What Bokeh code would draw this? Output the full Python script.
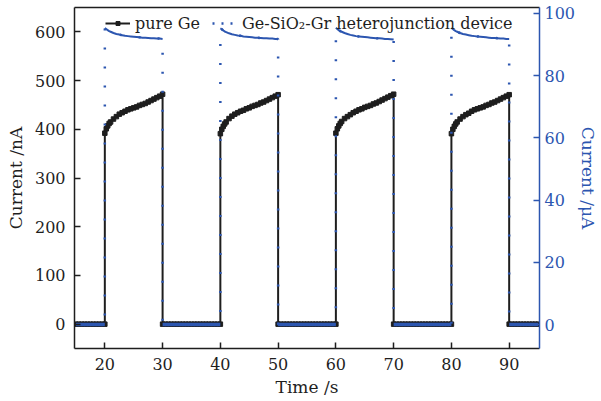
import numpy as np
from bokeh.plotting import figure
from bokeh.models import Range1d, LinearAxis, FixedTicker, Legend, LegendItem
from bokeh.embed import file_html
from bokeh.resources import INLINE

# ---------------- data ----------------
x_start, x_end = 15, 95
on_starts = [20, 40, 60, 80]          # light on (s)
on_length = 10                         # light on duration (s)
sample_dt = [0.0, 0.25, 0.5, 0.75, 1.0, 1.5, 2.0, 2.5, 3.0, 3.5, 4.0, 4.5, 5.0,
             5.5, 6.0, 6.5, 7.0, 7.5, 8.0, 8.5, 9.0, 9.5, 10.0]

# pure Ge current (nA) during each light-on period
ge_cycle1 = [392, 401, 407, 412, 415, 421, 426, 431, 434, 437, 440, 442, 444, 446, 449, 451, 453, 456, 459, 462, 465, 468, 472]
ge_cycle2 = [391, 400, 406, 411, 415, 422, 427, 431, 434, 437, 439, 442, 444, 447, 449, 451, 454, 456, 459, 462, 465, 468, 471]
ge_cycle3 = [392, 401, 407, 412, 416, 422, 426, 430, 434, 437, 440, 442, 445, 447, 449, 452, 454, 457, 460, 463, 466, 469, 472]
ge_cycle4 = [391, 400, 406, 411, 415, 421, 426, 430, 433, 437, 440, 442, 444, 446, 449, 451, 454, 456, 459, 462, 465, 468, 471]

# Ge-SiO2-Gr heterojunction current (uA) during each light-on period
hj_cycle1 = [95.3, 95.0, 94.6, 94.3, 94.1, 93.7, 93.4, 93.2, 93.0, 92.8, 92.7, 92.6, 92.5, 92.4, 92.3, 92.2, 92.2, 92.1, 92.0, 92.0, 91.9, 91.9, 91.8]
hj_cycle2 = [95.2, 94.9, 94.5, 94.2, 94.0, 93.6, 93.3, 93.1, 92.9, 92.8, 92.6, 92.5, 92.4, 92.3, 92.2, 92.2, 92.1, 92.0, 92.0, 91.9, 91.9, 91.8, 91.8]
hj_cycle3 = [95.4, 95.0, 94.6, 94.3, 94.1, 93.7, 93.4, 93.1, 92.9, 92.7, 92.6, 92.5, 92.4, 92.3, 92.2, 92.1, 92.0, 92.0, 91.9, 91.8, 91.8, 91.7, 91.6]
hj_cycle4 = [95.3, 95.0, 94.6, 94.3, 94.1, 93.7, 93.4, 93.2, 93.0, 92.8, 92.7, 92.6, 92.5, 92.4, 92.3, 92.2, 92.1, 92.1, 92.0, 91.9, 91.9, 91.8, 91.8]

off_level = 0.0

x_ticks = [20, 30, 40, 50, 60, 70, 80, 90]
left_ticks = [0, 100, 200, 300, 400, 500, 600]
right_ticks = [0, 20, 40, 60, 80, 100]

ge_cycles = [ge_cycle1, ge_cycle2, ge_cycle3, ge_cycle4]
hj_cycles = [hj_cycle1, hj_cycle2, hj_cycle3, hj_cycle4]

# ---------------- build series ----------------
ge_t, ge_y, hj_t, hj_y = [], [], [], []
hj_on_xs, hj_on_ys, hj_off_xs, hj_off_ys = [], [], [], []
prev = x_start
for s, gv, hv in zip(on_starts, ge_cycles, hj_cycles):
    toff = [float(v) for v in np.arange(prev, s + 1e-9, 0.5)]
    ge_t += toff; ge_y += [off_level] * len(toff)
    hj_t += toff; hj_y += [off_level] * len(toff)
    hj_off_xs.append(toff); hj_off_ys.append([off_level] * len(toff))
    ton = [s + d for d in sample_dt]
    ge_t += ton; ge_y += gv
    hj_t += ton; hj_y += hv
    hj_on_xs.append(ton); hj_on_ys.append(hv)
    prev = s + on_length
toff = [float(v) for v in np.arange(prev, x_end + 1e-9, 0.5)]
ge_t += toff; ge_y += [off_level] * len(toff)
hj_t += toff; hj_y += [off_level] * len(toff)
hj_off_xs.append(toff); hj_off_ys.append([off_level] * len(toff))

BLACK = "#1e1e1e"
BLUE = "#2c56b0"
FONT = "DejaVu Serif"

p = figure(width=601, height=401, output_backend="svg", toolbar_location=None,
           x_range=Range1d(14.75, 95.25), y_range=Range1d(-50, 650),
           min_border_left=74, min_border_right=62, min_border_top=7, min_border_bottom=53)
p.extra_y_ranges = {"hj": Range1d(-7.7, 101.9)}
p.grid.visible = False
p.outline_line_color = None
p.background_fill_color = "white"
p.border_fill_color = "white"

ge_line = p.line(ge_t, ge_y, line_color=BLACK, line_width=2)
ge_pts = p.scatter(ge_t, ge_y, marker="square", size=4.5, fill_color=BLACK, line_color=BLACK)

p.line(hj_t, hj_y, y_range_name="hj", line_color=BLUE, line_width=2.5, line_dash="2 17")
p.multi_line(hj_on_xs, hj_on_ys, y_range_name="hj", line_color=BLUE, line_width=2)
p.multi_line(hj_off_xs, hj_off_ys, y_range_name="hj", line_color=BLUE, line_width=3.5)
hj_proxy = p.line(np.array([np.nan, np.nan]), np.array([np.nan, np.nan]), y_range_name="hj",
                  line_color=BLUE, line_width=2.5, line_dash="2 7")

def style_axis(ax, color):
    ax.axis_line_color = color
    ax.axis_line_width = 1.5
    ax.major_tick_line_color = color
    ax.major_tick_line_width = 1.5
    ax.major_tick_in = 6
    ax.major_tick_out = 0
    ax.minor_tick_line_color = None
    ax.major_label_text_font = FONT
    ax.major_label_text_font_size = "16px"
    ax.major_label_text_color = color
    ax.axis_label_text_font = FONT
    ax.axis_label_text_font_size = "17px"
    ax.axis_label_text_font_style = "normal"
    ax.axis_label_text_color = color

xa = p.xaxis[0]
xa.ticker = FixedTicker(ticks=x_ticks)
xa.axis_label = "Time /s"
style_axis(xa, BLACK)
xa.major_label_standoff = 9
xa.axis_label_standoff = 4

ya = p.yaxis[0]
ya.ticker = FixedTicker(ticks=left_ticks)
ya.axis_label = "Current /nA"
style_axis(ya, BLACK)
ya.major_label_standoff = 9
ya.axis_label_standoff = 6

ra = LinearAxis(y_range_name="hj", ticker=FixedTicker(ticks=right_ticks), axis_label="Current /μA")
style_axis(ra, BLUE)
ra.major_label_standoff = 5
ra.axis_label_standoff = 0
p.add_layout(ra, "right")

ta = LinearAxis(ticker=FixedTicker(ticks=[]))
ta.axis_line_color = BLACK
ta.axis_line_width = 1.5
ta.major_tick_line_color = None
ta.minor_tick_line_color = None
ta.major_tick_out = 0
ta.major_label_standoff = 0
ta.major_label_text_font_size = "0px"
p.add_layout(ta, "above")

legend = Legend(items=[LegendItem(label="pure Ge", renderers=[ge_line, ge_pts]),
                       LegendItem(label="Ge-SiO₂-Gr heterojunction device", renderers=[hj_proxy])],
                orientation="horizontal", location=(31, 315))
legend.background_fill_alpha = 0
legend.border_line_color = None
legend.padding = 0
legend.margin = 0
legend.spacing = 12
legend.glyph_width = 25
legend.glyph_height = 10
legend.label_height = 20
legend.label_standoff = 5
legend.label_text_font = FONT
legend.label_text_font_size = "16px"
legend.label_text_color = BLACK
p.add_layout(legend)

open("out.html", "w").write(file_html(p, INLINE))
